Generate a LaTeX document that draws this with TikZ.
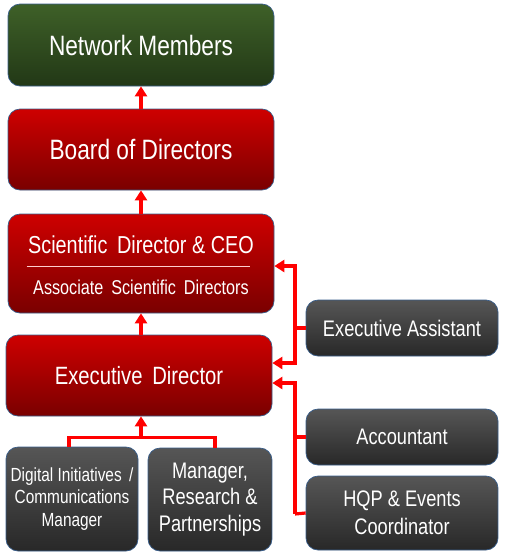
\documentclass[tikz,border=0pt]{standalone}
\usepackage{fontspec}
\setmainfont{Liberation Sans}[FakeStretch=0.81]
\usepackage{tikz}
\usetikzlibrary{arrows.meta,calc,positioning}
\definecolor{EdgeBlue}{RGB}{56,93,138}
\definecolor{GreenTop}{RGB}{62,96,40}
\definecolor{GreenBot}{RGB}{34,56,22}
\definecolor{RedTop}{RGB}{206,0,0}
\definecolor{RedBot}{RGB}{122,0,0}
\definecolor{GreyTop}{RGB}{86,86,86}
\definecolor{GreyBot}{RGB}{40,40,40}
\newcommand{\fsz}[2]{\fontsize{#1}{#2}\selectfont}

\begin{document}
\begin{tikzpicture}[x=1pt, y=-1pt,
	box/.style={draw=EdgeBlue, line width=0.7pt, rounded corners=12pt, inner sep=0pt,
		text=white, align=center},
	greenbox/.style={box, top color=GreenTop, bottom color=GreenBot},
	redbox/.style={box, top color=RedTop, bottom color=RedBot},
	greybox/.style={box, top color=GreyTop, bottom color=GreyBot},
	link/.style={red, line width=3.2pt},
	arr/.style={link, -{Triangle[width=12pt,length=10pt]}}
	]
				\useasboundingbox (0,0) rectangle (506,558);
				\node[greenbox, minimum width=266pt, minimum height=82pt, font=\fsz{28}{33}] (members) at (141,45) {Network Members};
				\node[redbox, minimum width=266pt, minimum height=81pt, font=\fsz{28}{33}] (board) at (141,149.5) {Board of Directors};
				\node[redbox, minimum width=266pt, minimum height=99pt] (scidir) at (141,263.5) {};
				\node[text=white, font=\fsz{24.5}{29}] (scititle) at (141,245) {Scientific\, Director \& CEO};
				\node[text=white, font=\fsz{20}{24}] (scisub) at (141,287) {Associate\, Scientific\, Directors};
				\draw[white!80!red, line width=0.9pt] ([xshift=19pt,yshift=-2.5pt]scidir.west) -- ([xshift=-24pt,yshift=-2.5pt]scidir.east);
				\node[redbox, minimum width=266pt, minimum height=81pt, font=\fsz{25}{30}] (execdir) at (139,375.5) {Executive\, Director};
				\node[greybox, minimum width=132pt, minimum height=104pt, font=\fsz{19}{22.5}] (digital) at (72,499) {Digital Initiatives\, /\\Communications\\Manager};
				\node[greybox, minimum width=124pt, minimum height=103pt, font=\fsz{22.5}{26.5}] (manager) at (210,499.5) {Manager,\\Research \&\\Partnerships};
				\node[greybox, minimum width=192pt, minimum height=56pt, font=\fsz{22.5}{26.5}] (assistant) at (402,328) {Executive Assistant};
				\node[greybox, minimum width=192pt, minimum height=56pt, font=\fsz{22.5}{26.5}] (accountant) at (402,437) {Accountant};
				\node[greybox, minimum width=192pt, minimum height=74pt, font=\fsz{22.5}{28}] (hqp) at (402,513) {HQP \& Events\\Coordinator};
				\coordinate (fork) at (141,437.5);
				\coordinate (bus1) at (295,328);
				\coordinate (bus2) at (295,514);
				\draw[arr] (board.north) -- (members.south);
				\draw[arr] (scidir.north) -- (board.south);
				\draw[arr] (execdir.north -| scidir) -- (scidir.south);
				\draw[link] ([xshift=-3pt]digital.north) |- (fork) -| ([xshift=5pt]manager.north);
				\draw[arr] (fork) -- (fork |- execdir.south);
				\draw[link] (assistant.west) -- (bus1);
				\draw[arr] (bus1) |- ([yshift=-2.5pt]scidir.east);
				\draw[arr] (bus1) |- ([yshift=12.5pt]execdir.east);
				\draw[link] (hqp.west) -- (bus2);
				\draw[arr] (bus2) |- ([yshift=-7.5pt]execdir.east);
				\draw[link] (accountant.west) -- (accountant.west -| bus2);
\end{tikzpicture}
\end{document}
